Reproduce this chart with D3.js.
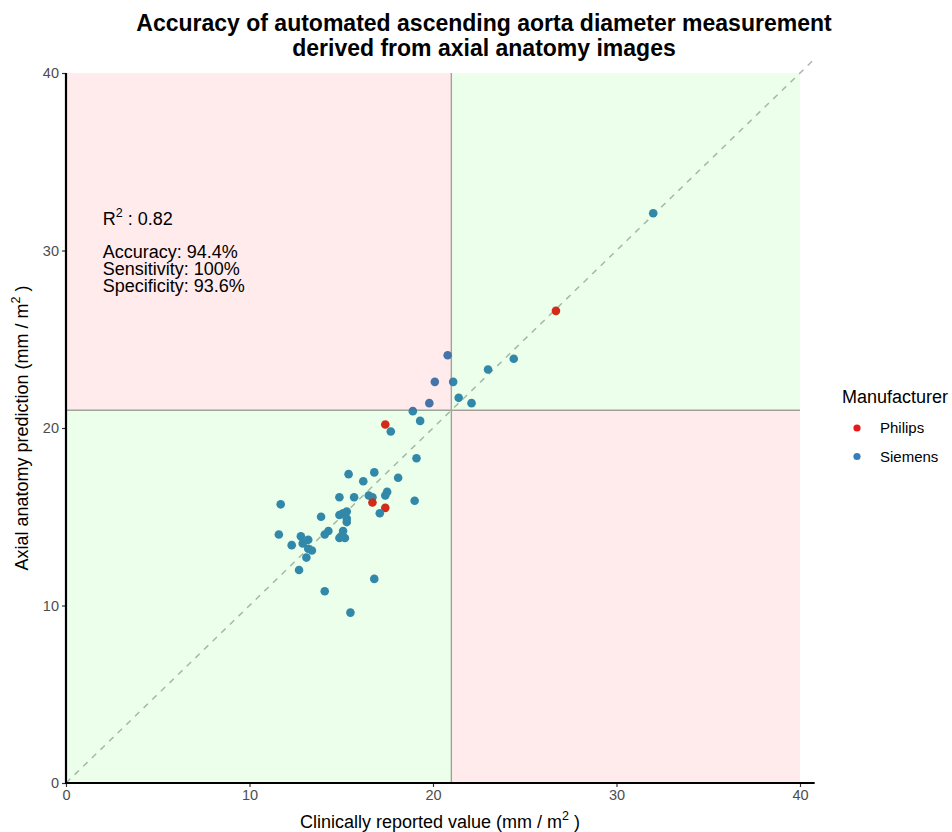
<!DOCTYPE html>
<html>
<head>
<meta charset="utf-8">
<script src="https://cdn.jsdelivr.net/npm/d3@7"></script>
<style>
  body { margin: 0; background: #fff; }
  text { font-family: "Liberation Sans", Arial, sans-serif; }
</style>
</head>
<body>
<div id="chart"></div>
<script>
// values
const clinical = [32.0, 26.7, 24.4, 23.0, 20.8, 20.1, 21.1, 21.4, 22.1, 19.8, 18.9, 17.4, 19.3, 17.7, 19.1,
    15.4, 16.8, 16.2, 18.1, 11.7, 14.9, 15.7, 16.5, 16.7, 17.4, 17.5, 16.7, 17.4, 19.0, 17.1,
    13.9, 14.9, 15.1, 15.3, 15.3, 15.3, 11.6, 12.8, 12.3, 12.9, 13.2, 13.2, 13.4, 13.1, 12.7,
    14.1, 14.3, 15.1, 14.9, 15.0, 15.2, 16.8, 14.1, 15.5];
const predicted = [32.1, 26.6, 23.9, 23.3, 24.1, 22.6, 22.6, 21.7, 21.4, 21.4, 20.95, 20.2, 20.4, 19.8, 18.3,
    17.4, 17.5, 17.0, 17.2, 15.7, 16.1, 16.1, 16.2, 16.1, 16.2, 16.4, 15.8, 15.5, 15.9, 15.2,
    15.0, 15.1, 15.2, 15.3, 14.9, 14.7, 14.0, 13.9, 13.4, 13.5, 13.7, 13.2, 13.1, 12.7, 12.0,
    14.0, 14.2, 14.2, 13.8, 13.9, 13.8, 11.5, 10.8, 9.6];
const manufacturer = ["Siemens", "Philips", "Siemens", "Siemens", "Siemens", "Siemens", "Siemens", "Siemens",
    "Siemens", "Siemens", "Siemens", "Philips", "Siemens", "Siemens", "Siemens", "Siemens", "Siemens",
    "Siemens", "Siemens", "Siemens", "Siemens", "Siemens", "Siemens", "Siemens", "Siemens", "Siemens",
    "Philips", "Philips", "Siemens", "Siemens", "Siemens", "Siemens", "Siemens", "Siemens", "Siemens",
    "Siemens", "Siemens", "Siemens", "Siemens", "Siemens", "Siemens", "Siemens", "Siemens", "Siemens",
    "Siemens", "Siemens", "Siemens", "Siemens", "Siemens", "Siemens", "Siemens", "Siemens", "Siemens",
    "Siemens"];

const manufacturers = ["Philips", "Siemens"];
const colors = ["#E41A1C", "#377EB8"];
const ticks = [0, 10, 20, 30, 40];
const threshold = 21;
const r2 = "0.82";
const metrics = ["Accuracy: 94.4%", "Sensitivity: 100%", "Specificity: 93.6%"];

const width = 952, height = 832;

const x = d3.scaleLinear().domain([0, 40]).range([66, 800]);
const y = d3.scaleLinear().domain([0, 40]).range([783, 73]);
const color = d3.scaleOrdinal().domain(manufacturers).range(colors);

const points = clinical.map((c, i) => ({ x: c, y: predicted[i], m: manufacturer[i] }));

const svg = d3.select("#chart").append("svg")
    .attr("width", width)
    .attr("height", height);

// threshold lines
svg.append("line")
    .attr("x1", x(threshold)).attr("x2", x(threshold))
    .attr("y1", y(0)).attr("y2", y(40))
    .attr("stroke", "#a6a6a6").attr("stroke-width", 1.4);
svg.append("line")
    .attr("x1", x(0)).attr("x2", x(40))
    .attr("y1", y(threshold)).attr("y2", y(threshold))
    .attr("stroke", "#a6a6a6").attr("stroke-width", 1.4);

// identity line
svg.append("line")
    .attr("x1", x(0)).attr("y1", y(0))
    .attr("x2", x(40.8)).attr("y2", y(40.8))
    .attr("stroke", "#b3b3b3")
    .attr("stroke-width", 1.5)
    .attr("stroke-dasharray", "6,6");

svg.append("g")
    .selectAll(null)
    .data(points)
    .join("circle")
    .attr("cx", d => x(d.x))
    .attr("cy", d => y(d.y))
    .attr("r", 4.3)
    .attr("fill", d => color(d.m));

// quadrant shading, drawn over the points like the original
const quads = [
    { x0: 0, x1: threshold, y0: threshold, y1: 40, fill: "#ff0000" },
    { x0: threshold, x1: 40, y0: threshold, y1: 40, fill: "#00ff00" },
    { x0: 0, x1: threshold, y0: 0, y1: threshold, fill: "#00ff00" },
    { x0: threshold, x1: 40, y0: 0, y1: threshold, fill: "#ff0000" }
];
svg.append("g")
    .selectAll(null)
    .data(quads)
    .join("rect")
    .attr("x", d => x(d.x0))
    .attr("y", d => y(d.y1))
    .attr("width", d => x(d.x1) - x(d.x0))
    .attr("height", d => y(d.y0) - y(d.y1))
    .attr("fill", d => d.fill)
    .attr("fill-opacity", 0.08);

// axes
const xAxis = svg.append("g")
    .attr("transform", `translate(0,${y(0)})`)
    .call(d3.axisBottom(x).tickValues(ticks).tickSize(4).tickSizeOuter(0).tickPadding(3));
xAxis.select(".domain").remove();
const yAxis = svg.append("g")
    .attr("transform", `translate(${x(0)},0)`)
    .call(d3.axisLeft(y).tickValues(ticks).tickSize(4).tickSizeOuter(0).tickPadding(3));
yAxis.select(".domain").remove();
svg.selectAll(".tick line").attr("stroke", "#333").attr("stroke-width", 1.2);
svg.selectAll(".tick text")
    .attr("fill", "#4d4d4d")
    .style("font-size", "14.5px")
    .style("font-family", "'Liberation Sans', Arial, sans-serif");

svg.append("line")
    .attr("x1", x(0)).attr("x2", x(40.8))
    .attr("y1", y(0)).attr("y2", y(0))
    .attr("stroke", "#000").attr("stroke-width", 2.2);
svg.append("line")
    .attr("x1", x(0)).attr("x2", x(0))
    .attr("y1", y(0) + 1.1).attr("y2", y(40))
    .attr("stroke", "#000").attr("stroke-width", 2.2);

// axis titles
const xTitle = svg.append("text")
    .attr("x", 440).attr("y", 828)
    .attr("text-anchor", "middle")
    .style("font-size", "18px");
xTitle.append("tspan").text("Clinically reported value (mm / m");
xTitle.append("tspan").attr("dy", -8).style("font-size", "12.5px").text("2");
xTitle.append("tspan").attr("dy", 8).text(" )");

const yTitle = svg.append("text")
    .attr("transform", `translate(28,${y(20)}) rotate(-90)`)
    .attr("text-anchor", "middle")
    .style("font-size", "18px");
yTitle.append("tspan").text("Axial anatomy prediction (mm / m");
yTitle.append("tspan").attr("dy", -8).style("font-size", "12.5px").text("2");
yTitle.append("tspan").attr("dy", 8).text(" )");

// title
svg.append("text")
    .attr("x", 484).attr("y", 31)
    .attr("text-anchor", "middle")
    .style("font-size", "23px").style("font-weight", "bold")
    .text("Accuracy of automated ascending aorta diameter measurement");
svg.append("text")
    .attr("x", 484).attr("y", 56)
    .attr("text-anchor", "middle")
    .style("font-size", "23px").style("font-weight", "bold")
    .text("derived from axial anatomy images");

// annotations
const r2Text = svg.append("text")
    .attr("x", x(2)).attr("y", 225)
    .style("font-size", "18px");
r2Text.append("tspan").text("R");
r2Text.append("tspan").attr("dy", -8).style("font-size", "12.5px").text("2");
r2Text.append("tspan").attr("dy", 8).text(" : " + r2);

svg.append("g")
    .selectAll(null)
    .data(metrics)
    .join("text")
    .attr("x", x(2))
    .attr("y", (d, i) => 258 + i * 17)
    .style("font-size", "18px")
    .text(d => d);

// legend
const legend = svg.append("g");
legend.append("text")
    .attr("x", 842).attr("y", 403)
    .style("font-size", "18px")
    .text("Manufacturer");
legend.selectAll("circle")
    .data(manufacturers)
    .join("circle")
    .attr("cx", 857)
    .attr("cy", (d, i) => 428 + i * 28.5)
    .attr("r", 3.6)
    .attr("fill", d => color(d));
legend.selectAll(".lab")
    .data(manufacturers)
    .join("text")
    .attr("class", "lab")
    .attr("x", 880)
    .attr("y", (d, i) => 433 + i * 28.5)
    .style("font-size", "15px")
    .text(d => d);
</script>
</body>
</html>
